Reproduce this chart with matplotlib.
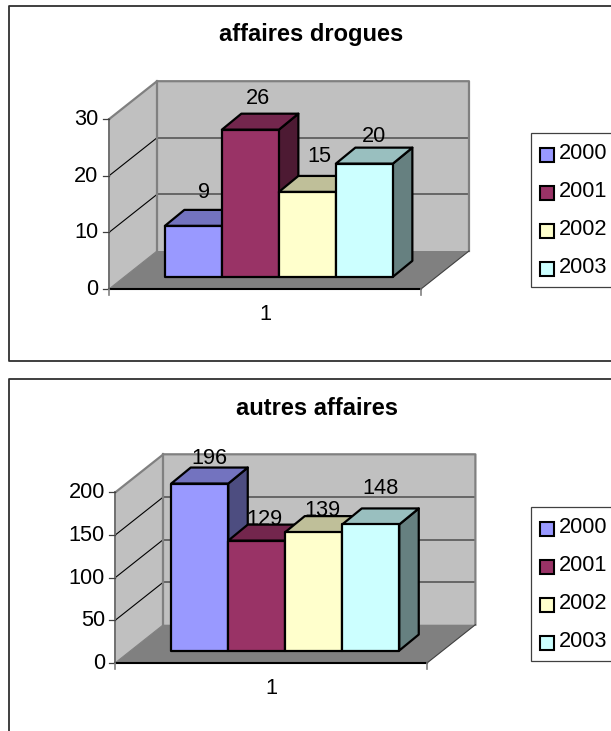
import matplotlib
matplotlib.use("Agg")
import matplotlib.pyplot as plt
from matplotlib.patches import Polygon, Rectangle

# ==============================================================================
# DATA
# ==============================================================================
annees = ["2000", "2001", "2002", "2003"]
categorie = "1"

titre_drogues = "affaires drogues"
valeurs_drogues = [9, 26, 15, 20]
ticks_drogues = [0, 10, 20, 30]

titre_autres = "autres affaires"
valeurs_autres = [196, 129, 139, 148]
ticks_autres = [0, 50, 100, 150, 200]

# ==============================================================================
# STYLE
# ==============================================================================
W, H = 611, 731
plt.rcParams["font.family"] = ["Liberation Sans", "DejaVu Sans"]
FS = 15.7

COULEURS = ["#9999FF", "#993366", "#FFFFCC", "#CCFFFF"]
COULEURS_HAUT = ["#7373BF", "#73264D", "#BFBF99", "#99BFBF"]
COULEURS_COTE = ["#4D4D80", "#4D1A33", "#808066", "#668080"]
MUR = "#C0C0C0"
SOL = "#808080"

# oblique depth of the box, and of the bars inside it
DX, DY = 48, -38
BAR_DX, BAR_DY = 19.5, -16
BAR_DEPTH_START = 0.32


def draw_chart(ax, titre, valeurs, ticks, x0, y0, unit, title_y, legend_top, shifts):
    width = 312
    ymax = ticks[-1]
    top = y0 - ymax * unit

    # left wall, back wall, floor
    ax.add_patch(Polygon([(x0, y0), (x0 + DX, y0 + DY), (x0 + DX, top + DY), (x0, top)],
                         fc=MUR, ec="none", zorder=1))
    ax.add_patch(Rectangle((x0 + DX, top + DY), width, y0 - top, fc=MUR, ec="none", zorder=1))
    ax.add_patch(Polygon([(x0, y0), (x0 + width, y0), (x0 + width + DX, y0 + DY), (x0 + DX, y0 + DY)],
                         fc=SOL, ec="none", zorder=2))

    # grid lines run along both walls
    for t in ticks[1:-1]:
        y = y0 - t * unit
        ax.plot([x0, x0 + DX], [y, y + DY], color="black", lw=0.8, zorder=3)
        ax.plot([x0 + DX, x0 + DX + width], [y + DY, y + DY], color="#5F5F5F", lw=1.3, zorder=3)

    # outline of the walls
    ax.plot([x0, x0 + DX, x0 + DX + width, x0 + DX + width],
            [top, top + DY, top + DY, y0 + DY], color="#808080", lw=1.6, zorder=3)
    ax.plot([x0 + DX, x0 + DX], [top + DY, y0 + DY], color="#808080", lw=1.6, zorder=3)
    ax.plot([x0, x0], [y0, top], color="#707070", lw=1.4, zorder=3)
    ax.plot([x0 + width, x0 + width + DX], [y0, y0 + DY], color="#404040", lw=0.8, zorder=3)
    ax.plot([x0, x0 + DX], [y0, y0 + DY], color="#808080", lw=0.8, zorder=3)

    # axes and ticks
    ax.plot([x0, x0 + width], [y0, y0], color="black", lw=1.5, zorder=4)
    for t in ticks:
        y = y0 - t * unit
        ax.plot([x0 - 6, x0], [y, y], color="#404040", lw=0.9, zorder=4)
        ax.text(x0 - 10.5, y + 0.5, str(t), ha="right", va="center", fontsize=FS, zorder=8)
    for x in [x0, x0 + width]:
        ax.plot([x, x], [y0, y0 + 6], color="#808080", lw=1.2, zorder=4)
    ax.text(x0 + width / 2, y0 + 25.5, categorie, ha="center", va="center", fontsize=FS)

    # bars, left to right so each one hides the side of the previous one
    base_x = x0 + BAR_DEPTH_START * DX + 40.5
    base_y = y0 + BAR_DEPTH_START * DY
    bar_w = 57
    for i, v in enumerate(valeurs):
        xl = base_x + i * bar_w
        xr = xl + bar_w
        yt = base_y - v * unit
        z = 5 + i * 0.1
        st = dict(ec="black", lw=1.6, joinstyle="round", zorder=z)
        ax.add_patch(Polygon([(xr, base_y), (xr + BAR_DX, base_y + BAR_DY),
                              (xr + BAR_DX, yt + BAR_DY), (xr, yt)], fc=COULEURS_COTE[i], **st))
        ax.add_patch(Polygon([(xl, yt), (xr, yt), (xr + BAR_DX, yt + BAR_DY),
                              (xl + BAR_DX, yt + BAR_DY)], fc=COULEURS_HAUT[i], **st))
        ax.add_patch(Rectangle((xl, yt), bar_w, base_y - yt, fc=COULEURS[i], **st))

        sx, sy = shifts[i]
        ax.text((xl + xr) / 2 + sx, yt + sy + 2, str(v), ha="center", va="center",
                fontsize=FS, zorder=8)

    ax.text(x0 + 202, title_y + 1.5, titre, ha="center", va="center", fontsize=17,
            fontweight="bold", zorder=8)

    # legend box runs past the right edge of the image
    ax.add_patch(Rectangle((531, legend_top), 100, 153.5, fc="white", ec="#404040", lw=0.9, zorder=2))
    for i, annee in enumerate(annees):
        y = legend_top + 21.5 + i * 38.1
        ax.add_patch(Rectangle((539.5, y - 7), 14, 14, fc=COULEURS[i], ec="black", lw=1.5, zorder=3))
        ax.text(559, y - 1.5, annee, ha="left", va="center", fontsize=FS, zorder=3)


def main():
    fig = plt.figure(figsize=(W / 100, H / 100), dpi=100)
    ax = fig.add_axes([0, 0, 1, 1])
    ax.set_xlim(0, W)
    ax.set_ylim(H, 0)
    ax.axis("off")

    # chart frames (cut by the edges of the page)
    ax.plot([W + 5, 8.5, 8.5, W + 5], [5.5, 5.5, 360.5, 360.5], color="#303030", lw=1.3)
    ax.plot([W + 5, 8.5, 8.5], [378.5, 378.5, H + 5], color="#303030", lw=1.3)

    draw_chart(ax, titre_drogues, valeurs_drogues, ticks_drogues,
               x0=109, y0=289, unit=5.66, title_y=33, legend_top=133.3,
               shifts=[(10.6, -35), (7.8, -33), (11.6, -37.6), (10, -29)])
    draw_chart(ax, titre_autres, valeurs_autres, ticks_autres,
               x0=115.4, y0=662.7, unit=0.852, title_y=407, legend_top=507.3,
               shifts=[(9.3, -27.3), (8, -23.3), (8.7, -23.6), (10, -38)])

    fig.savefig("out.png", dpi=100, facecolor="white")


if __name__ == "__main__":
    main()
